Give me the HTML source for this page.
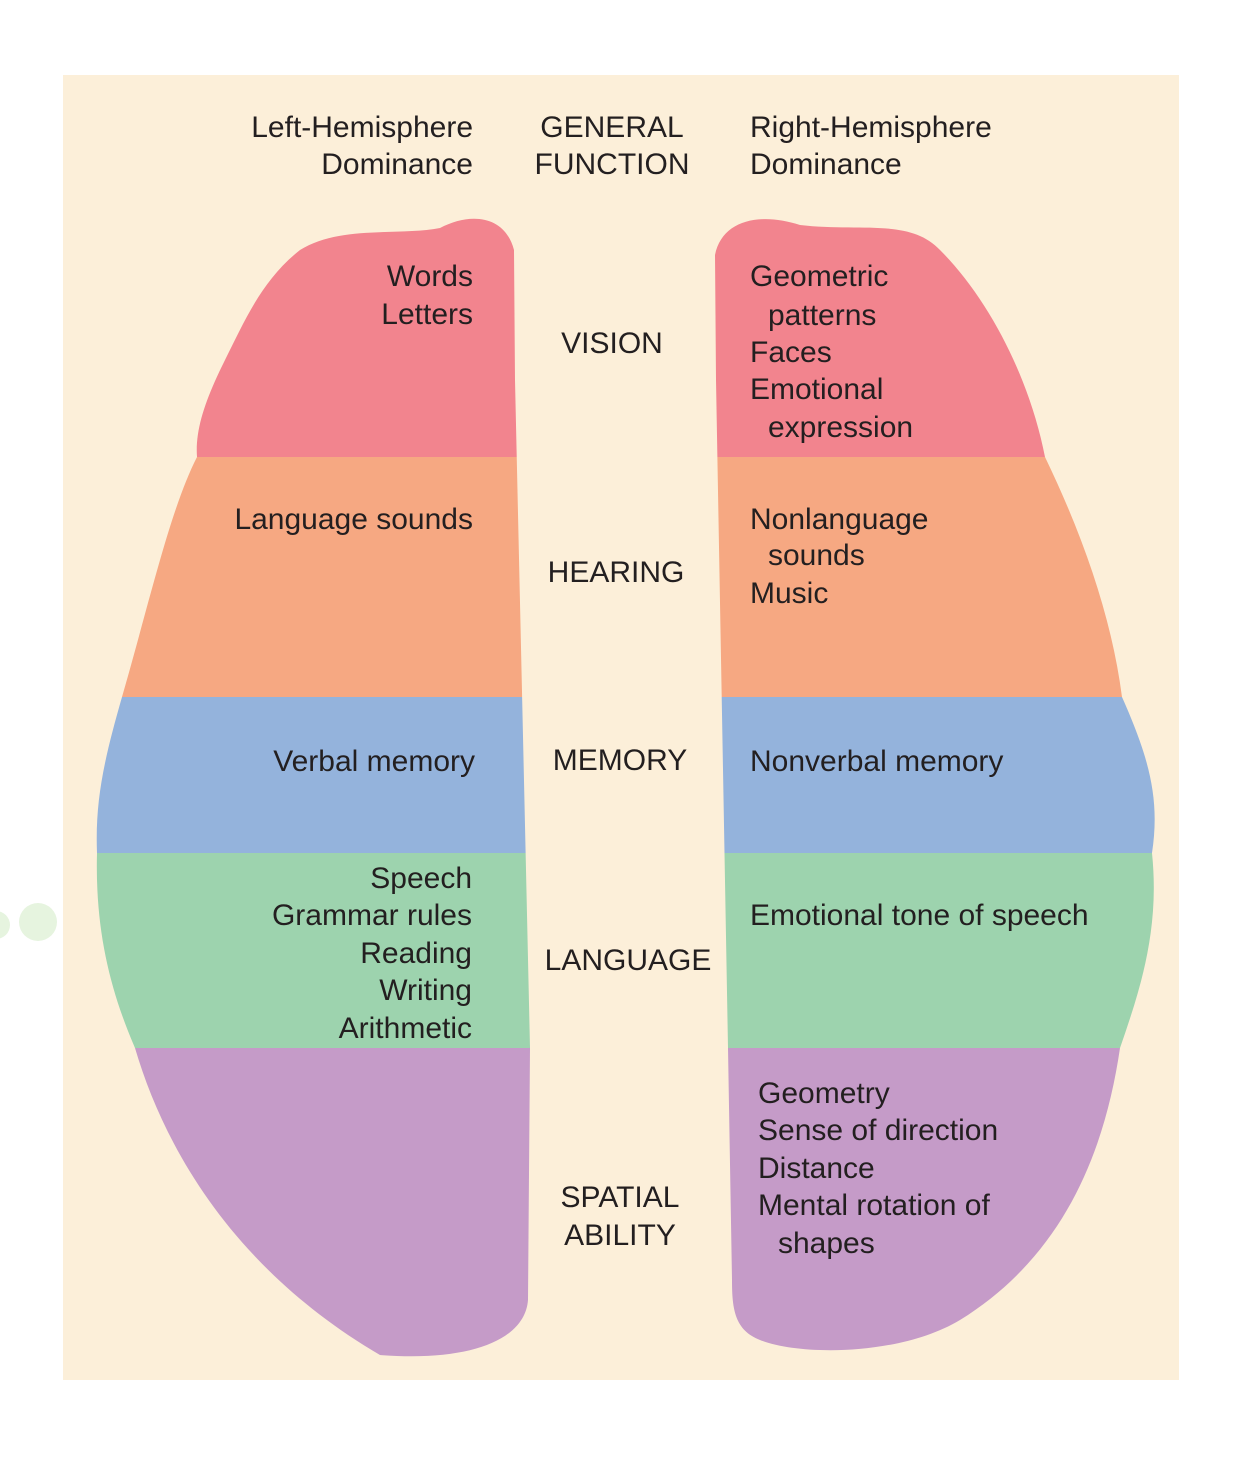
<!DOCTYPE html>
<html><head><meta charset="utf-8"><style>
html,body{margin:0;padding:0;background:#fff;}
svg{display:block;}
text{font-family:"Liberation Sans",sans-serif;font-size:30px;fill:#231f20;}
</style></head><body>
<svg width="1237" height="1457" viewBox="0 0 1237 1457" xmlns="http://www.w3.org/2000/svg">
<defs>
<clipPath id="L"><path d="M515,380 L514,250 C505,215 470,212 440,228 C400,236 340,225 300,250 C262,280 245,320 225,360 C205,400 195,430 197,457 C170,510 150,600 122,697 C104,760 95,800 97,853 C95,930 110,990 135,1048 C165,1150 235,1270 380,1355 C470,1362 525,1340 528,1300 L530,1048 Z"/></clipPath>
<clipPath id="R"><path d="M716,380 L715,255 C722,220 760,212 800,225 C860,232 910,218 940,250 C990,300 1030,380 1045,457 C1085,540 1112,620 1122,697 C1150,760 1160,800 1152,853 C1160,930 1140,990 1120,1048 C1105,1150 1065,1255 960,1320 C900,1356 800,1356 760,1340 C735,1330 732,1310 732,1280 L728,1048 Z"/></clipPath>
</defs>
<circle cx="38" cy="922" r="19" fill="#e6f4df"/>
<circle cx="-4" cy="925" r="14" fill="#e6f4df"/>
<rect x="63" y="75" width="1116" height="1305" fill="#fcefd9"/>
<g clip-path="url(#L)">
<rect x="0" y="200" width="620" height="257" fill="#f2848e"/>
<rect x="0" y="457" width="620" height="240" fill="#f6a882"/>
<rect x="0" y="697" width="620" height="156" fill="#94b3dc"/>
<rect x="0" y="853" width="620" height="195" fill="#9dd3ae"/>
<rect x="0" y="1048" width="620" height="320" fill="#c59bc8"/>
</g>
<g clip-path="url(#R)">
<rect x="620" y="200" width="600" height="257" fill="#f2848e"/>
<rect x="620" y="457" width="600" height="240" fill="#f6a882"/>
<rect x="620" y="697" width="600" height="156" fill="#94b3dc"/>
<rect x="620" y="853" width="600" height="195" fill="#9dd3ae"/>
<rect x="620" y="1048" width="600" height="320" fill="#c59bc8"/>
</g>
<g text-anchor="end">
<text x="473" y="137">Left-Hemisphere</text>
<text x="473" y="174">Dominance</text>
<text x="473" y="286">Words</text>
<text x="473" y="324">Letters</text>
<text x="473" y="529">Language sounds</text>
<text x="475" y="771">Verbal memory</text>
<text x="472" y="888">Speech</text>
<text x="472" y="925">Grammar rules</text>
<text x="472" y="963">Reading</text>
<text x="472" y="1000">Writing</text>
<text x="472" y="1038">Arithmetic</text>
</g>
<g text-anchor="middle">
<text x="612" y="137">GENERAL</text>
<text x="612" y="174">FUNCTION</text>
<text x="612" y="353">VISION</text>
<text x="616" y="582">HEARING</text>
<text x="620" y="770">MEMORY</text>
<text x="628" y="970">LANGUAGE</text>
<text x="620" y="1207">SPATIAL</text>
<text x="620" y="1245">ABILITY</text>
</g>
<text x="750" y="137">Right-Hemisphere</text>
<text x="750" y="174">Dominance</text>
<text x="750" y="286">Geometric</text>
<text x="768" y="325">patterns</text>
<text x="750" y="362">Faces</text>
<text x="750" y="399">Emotional</text>
<text x="768" y="437">expression</text>
<text x="750" y="529">Nonlanguage</text>
<text x="768" y="565">sounds</text>
<text x="750" y="603">Music</text>
<text x="750" y="771">Nonverbal memory</text>
<text x="750" y="925">Emotional tone of speech</text>
<text x="758" y="1103">Geometry</text>
<text x="758" y="1140">Sense of direction</text>
<text x="758" y="1178">Distance</text>
<text x="758" y="1215">Mental rotation of</text>
<text x="778" y="1253">shapes</text>
</svg>
</body></html>
